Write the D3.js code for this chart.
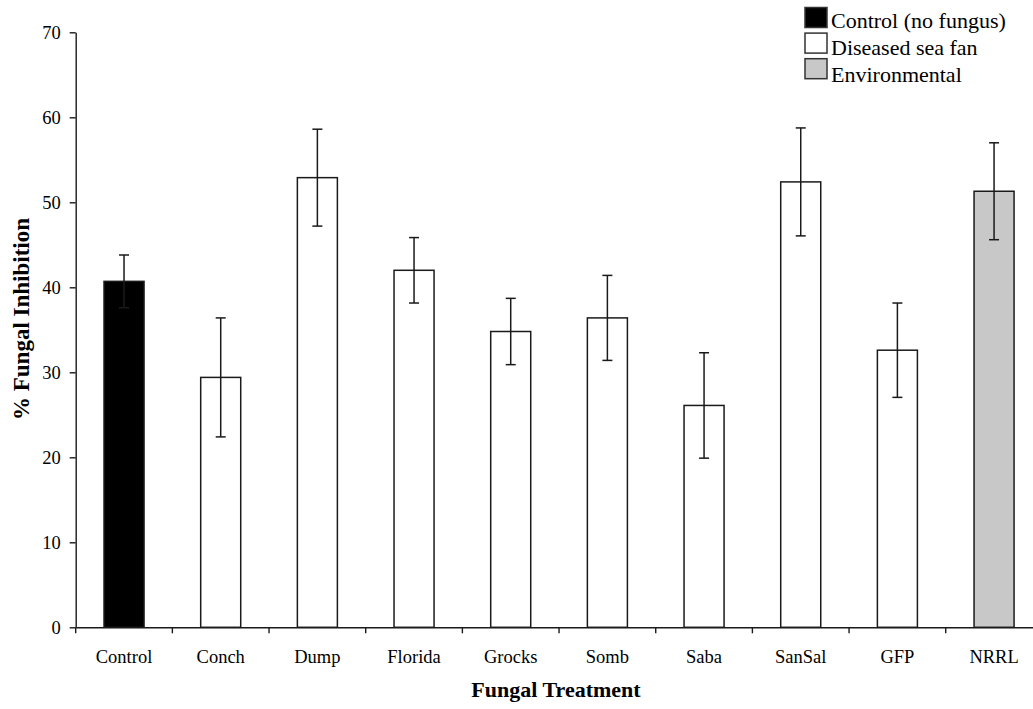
<!DOCTYPE html>
<html>
<head>
<meta charset="utf-8">
<script src="https://cdn.jsdelivr.net/npm/d3@7"></script>
<style>
  body { margin: 0; background: #fff; }
  svg { display: block; font-family: "Liberation Serif", "Times New Roman", serif; }
  .axis text { font-family: "Liberation Serif", "Times New Roman", serif; font-size: 18.5px; fill: #000; }
  .axis path, .axis line { stroke: #1a1a1a; stroke-width: 1.4px; }
</style>
</head>
<body>
<svg id="chart" width="1033" height="709"></svg>
<script>
// data
var categories = ["Control", "Conch", "Dump", "Florida", "Grocks", "Somb", "Saba", "SanSal", "GFP", "NRRL"];
var means = [40.7, 29.4, 52.9, 42.0, 34.8, 36.4, 26.1, 52.4, 32.6, 51.3];
var errors = [3.1, 7.0, 5.7, 3.85, 3.9, 5.0, 6.2, 6.35, 5.55, 5.7];
var groupOf = ["control", "diseased", "diseased", "diseased", "diseased", "diseased", "diseased", "diseased", "diseased", "environmental"];
var legendKeys = ["control", "diseased", "environmental"];
var legendLabels = ["Control (no fungus)", "Diseased sea fan", "Environmental"];
var yTicks = [0, 10, 20, 30, 40, 50, 60, 70];

(function() {
  var svg = d3.select("#chart");

  var left = 75.7, top = 32.3, bottom = 627.3, bandStep = 96.67;

  var x = d3.scaleBand()
    .domain(categories)
    .range([left, left + bandStep * categories.length])
    .padding(0);

  var y = d3.scaleLinear().domain([0, 70]).range([bottom, top]);

  var fill = d3.scaleOrdinal()
    .domain(legendKeys)
    .range(["#000000", "#ffffff", "#c8c8c8"]);

  var barW = x.bandwidth() * 0.414;
  var capHalf = 5;

  var rows = categories.map(function(c, i) {
    return { name: c, mean: means[i], err: errors[i], group: groupOf[i] };
  });

  // bars
  svg.append("g").selectAll("rect.bar")
    .data(rows)
    .enter().append("rect")
    .attr("class", "bar")
    .attr("x", d => x(d.name) + x.bandwidth() / 2 - barW / 2)
    .attr("y", d => y(d.mean))
    .attr("width", barW)
    .attr("height", d => y(0) - y(d.mean))
    .attr("fill", d => fill(d.group))
    .attr("stroke", "#1a1a1a")
    .attr("stroke-width", 1.5);

  // error bars
  var eb = svg.append("g").selectAll("g.err")
    .data(rows)
    .enter().append("g")
    .attr("class", "err")
    .attr("stroke", "#1a1a1a")
    .attr("stroke-width", 1.5);

  eb.append("line")
    .attr("x1", d => x(d.name) + x.bandwidth() / 2)
    .attr("x2", d => x(d.name) + x.bandwidth() / 2)
    .attr("y1", d => y(d.mean + d.err))
    .attr("y2", d => y(d.mean - d.err));

  [1, -1].forEach(function(s) {
    eb.append("line")
      .attr("x1", d => x(d.name) + x.bandwidth() / 2 - capHalf)
      .attr("x2", d => x(d.name) + x.bandwidth() / 2 + capHalf)
      .attr("y1", d => y(d.mean + s * d.err))
      .attr("y2", d => y(d.mean + s * d.err));
  });

  // y axis
  svg.append("g")
    .attr("class", "axis")
    .attr("transform", "translate(" + left + ",0)")
    .call(d3.axisLeft(y).tickValues(yTicks).tickSize(6).tickSizeOuter(0).tickPadding(9));

  // x axis: labels centred, ticks at the band edges
  var xAxis = svg.append("g")
    .attr("class", "axis")
    .attr("transform", "translate(0," + bottom + ")")
    .call(d3.axisBottom(x).tickSize(0).tickSizeOuter(0).tickPadding(23));

  xAxis.selectAll(".edge")
    .data(categories)
    .enter().append("line")
    .attr("class", "edge")
    .attr("x1", d => x(d))
    .attr("x2", d => x(d))
    .attr("y1", 0)
    .attr("y2", 6);

  // axis titles
  svg.append("text")
    .attr("x", 556)
    .attr("y", 697)
    .attr("text-anchor", "middle")
    .attr("font-weight", "bold")
    .attr("font-size", "22px")
    .text("Fungal Treatment");

  svg.append("text")
    .attr("transform", "translate(29,319) rotate(-90)")
    .attr("text-anchor", "middle")
    .attr("font-weight", "bold")
    .attr("font-size", "23px")
    .text("% Fungal Inhibition");

  // legend
  var legend = svg.append("g").attr("class", "legend");
  var items = legend.selectAll("g")
    .data(legendKeys)
    .enter().append("g");

  items.append("rect")
    .attr("x", 805)
    .attr("y", (d, i) => 7.5 + i * 25.6)
    .attr("width", 22)
    .attr("height", 20)
    .attr("fill", d => fill(d))
    .attr("stroke", "#333")
    .attr("stroke-width", 1.5);

  items.append("text")
    .attr("x", 831)
    .attr("y", (d, i) => 28.3 + i * 26.7)
    .attr("font-size", "22px")
    .text((d, i) => legendLabels[i]);
})();
</script>
</body>
</html>
